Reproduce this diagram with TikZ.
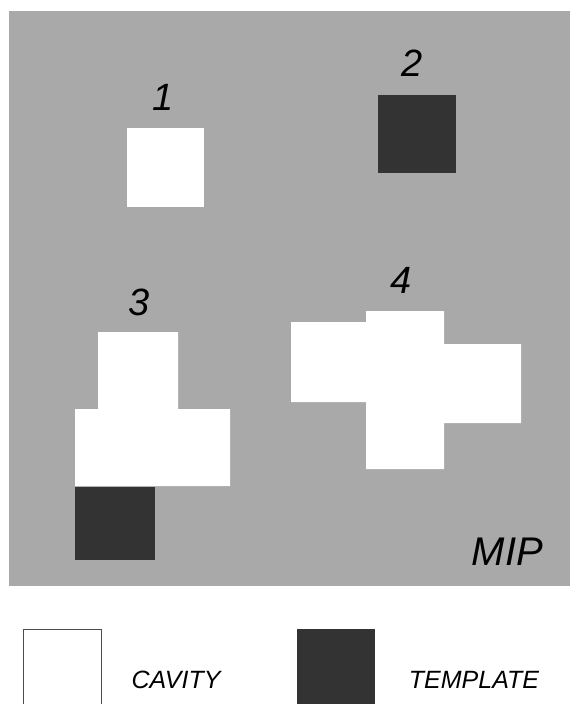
\documentclass[tikz,border=0pt]{standalone}
\usepackage{fontspec}
\setmainfont{Liberation Sans}
\definecolor{mipgray}{HTML}{A9A9A9}
\definecolor{tempdark}{HTML}{333333}
\tikzset{
  cavity/.style={fill=white, draw=none},
  template/.style={fill=tempdark, draw=none},
  num/.style={font=\fontsize{38}{40}\selectfont\itshape, anchor=base, inner sep=0pt},
  legtext/.style={font=\fontsize{25}{27}\selectfont\itshape, anchor=base, inner sep=0pt}
}
\begin{document}
\begin{tikzpicture}[x=1pt,y=-1pt]
\useasboundingbox (0,0) rectangle (570,704);
\clip (0,0) rectangle (570,704);
% MIP background
\fill[mipgray] (9,11) rectangle (570,586);
% site 1
\fill[cavity] (127,128) rectangle (204,207);
\node[num] (n1) at (163,110) {1};
% site 2
\fill[template] (378,95) rectangle (456,173);
\node[num] (n2) at (412,76) {2};
% site 3
\fill[cavity] (98,332) -- (178,332) -- (178,409) -- (230,409) -- (230,486) -- (75,486) -- (75,409) -- (98,409) -- cycle;
\fill[template] (75,487) rectangle (155,560);
\node[num] (n3) at (139,315) {3};
% site 4
\fill[cavity] (366,311) -- (444,311) -- (444,344) -- (521,344) -- (521,423) -- (444,423) -- (444,469) -- (366,469) -- (366,402) -- (291,402) -- (291,322) -- (366,322) -- cycle;
\node[num] (n4) at (401,293) {4};
% label
\node[num, font=\fontsize{40}{42}\selectfont\itshape, anchor=base east] (mip) at (543,565) {MIP};
% legend
\draw[fill=white, draw=black!70, line width=0.6pt] (23,629) rectangle (101,712);
\node[legtext] (cav) at (176,688) {CAVITY};
\fill[template] (297,629) rectangle (375,712);
\node[legtext] (tem) at (474,688) {TEMPLATE};
\end{tikzpicture}
\end{document}
